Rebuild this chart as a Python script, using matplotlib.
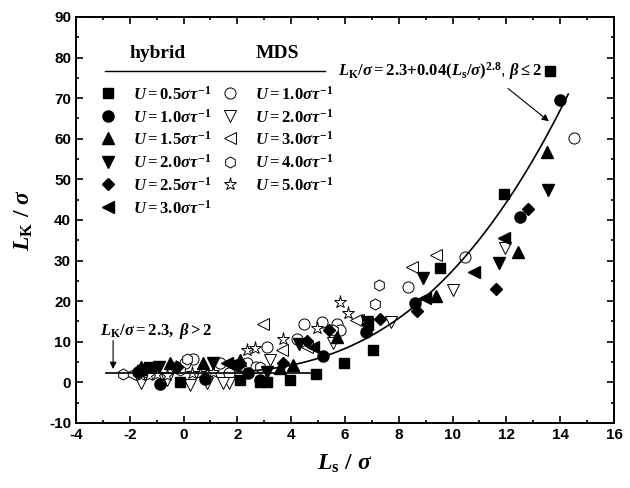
import matplotlib
matplotlib.use("Agg")
import matplotlib.pyplot as plt
import numpy as np

plt.rcParams['font.family'] = ['Liberation Sans', 'DejaVu Sans']
plt.rcParams['mathtext.fontset'] = 'custom'
plt.rcParams['mathtext.it'] = 'Liberation Serif:italic:bold'
plt.rcParams['mathtext.rm'] = 'Liberation Serif:bold'
plt.rcParams['mathtext.bf'] = 'Liberation Serif:bold'
plt.rcParams['axes.unicode_minus'] = False

# hybrid data (filled markers)
h05_x = [13.62, 11.91, 9.53, 7.04, 5.96, 4.92, 3.96, 3.1, 2.84, 2.1, -0.13, -1.3, -1.55]
h05_y = [76.6, 46.3, 28.1, 8.1, 4.9, 2.0, 0.5, 0.0, 0.0, 0.5, 0.0, 3.7, 3.0]
h10_x = [14.0, 12.5, 8.6, 6.78, 5.18, 2.84, 2.4, 2.0, -0.88, 0.8, -1.7]
h10_y = [69.5, 40.8, 19.5, 12.3, 6.4, 0.7, 2.2, 4.2, -0.3, 0.8, 2.5]
h15_x = [13.5, 12.43, 9.38, 5.7, 4.07, 3.6, 0.72, -0.5, -1.6, 2.1]
h15_y = [56.7, 32.0, 21.4, 11.1, 4.4, 3.5, 4.9, 4.7, 3.7, 5.4]
h20_x = [13.55, 11.72, 8.9, 6.8, 4.3, 3.1, 1.1, -0.9]
h20_y = [47.3, 29.3, 25.6, 14.8, 9.5, 2.5, 4.9, 3.7]
h25_x = [12.8, 11.6, 8.68, 7.3, 5.4, 4.6, 3.7, 2.1, -0.25, -1.5]
h25_y = [42.6, 22.9, 17.5, 15.5, 12.8, 10.3, 4.7, 4.9, 3.7, 3.0]
h30_x = [11.9, 10.8, 8.97, 6.8, 4.8, 1.6, -1.25]
h30_y = [35.5, 27.3, 20.7, 14.5, 8.6, 4.7, 3.7]

# MDS data (open markers)
m10_x = [14.5, 10.46, 8.34, 4.48, 5.15, 5.7, 4.2, 3.1, 2.36, 2.7, 1.35, 1.7, 0.35, 0.05, -0.3, 5.8]
m10_y = [60.1, 30.8, 23.4, 14.5, 14.8, 14.5, 10.8, 8.6, 4.7, 3.7, 4.9, 2.2, 5.7, 4.9, 3.7, 12.8]
m20_x = [11.95, 10.0, 7.7, 5.55, 3.2, 1.7, 1.45, 0.87, 0.24, -0.6, -1.6, 0.72]
m20_y = [33.2, 22.7, 14.8, 9.6, 5.4, -0.2, -0.2, -0.2, -0.7, 0.5, -0.2, 1.2]
m30_x = [9.4, 8.5, 6.5, 2.95, 3.67, 6.4, 4.6, -2.0]
m30_y = [31.5, 28.3, 15.3, 14.5, 7.9, 15.3, 8.6, 2.0]
m40_x = [7.26, 7.1, 5.55, 0.12, -2.25, -0.13, 0.87, 2.84]
m40_y = [23.9, 19.2, 12.8, 5.7, 2.0, 3.0, 1.7, 3.7]
m50_x = [5.8, 6.1, 4.96, 3.7, 2.36, 2.65, 1.1, 0.6, -0.3, -0.6, -1.0, -1.3, -1.6, 0.3]
m50_y = [19.7, 17.0, 13.3, 10.6, 7.9, 8.4, 2.5, 2.2, 3.7, 1.7, 2.0, 1.7, 1.7, 2.2]

hybrid = [(h05_x, h05_y, 's', '0.5'), (h10_x, h10_y, 'o', '1.0'),
          (h15_x, h15_y, '^', '1.5'), (h20_x, h20_y, 'v', '2.0'),
          (h25_x, h25_y, 'D', '2.5'), (h30_x, h30_y, '<', '3.0')]
mds = [(m10_x, m10_y, 'o', '1.0'), (m20_x, m20_y, 'v', '2.0'),
       (m30_x, m30_y, '<', '3.0'), (m40_x, m40_y, 'h', '4.0'),
       (m50_x, m50_y, '*', '5.0')]

def msize(m):
    return {'D': 6.5, '*': 9.5, 's': 7}.get(m, 8)

fig = plt.figure(figsize=(6.3, 4.88), dpi=100)
ax = fig.add_axes([0.1206, 0.1332, 0.854, 0.832])

for x, y, m, lab in mds:
    ax.plot(x, y, linestyle='none', marker=m, ms=msize(m), mfc='white', mec='black', mew=0.7)
for x, y, m, lab in hybrid:
    ax.plot(x, y, linestyle='none', marker=m, ms=msize(m), mfc='black', mec='black')

# fitted curve and flat line
xf = np.linspace(-2.9, 5.0, 10)
ax.plot(xf, np.full_like(xf, 2.3), color='black', lw=1.2)
xc = np.linspace(2.0, 14.3, 200)
ax.plot(xc, 2.3 + 0.04 * xc ** 2.8, color='black', lw=1.2)

# legend drawn by hand
ax.text(-0.95, 81, 'hybrid', ha='center', va='center', fontsize=14,
        fontfamily='Liberation Serif', fontweight='bold')
ax.text(3.47, 81, 'MDS', ha='center', va='center', fontsize=14,
        fontfamily='Liberation Serif', fontweight='bold')
ax.plot([-2.92, 5.26], [76.6, 76.6], color='black', lw=1.0)
rows = [71.2, 65.5, 60.1, 54.4, 48.8, 43.1]
for i, (x, y, m, lab) in enumerate(hybrid):
    ax.plot(-2.81, rows[i], marker=m, ms=msize(m), mfc='black', mec='black')
    ax.text(-1.88, rows[i], r'$U = %s\sigma\tau^{-1}$' % lab, va='center', fontsize=12)
for i, (x, y, m, lab) in enumerate(mds):
    ax.plot(1.72, rows[i], marker=m, ms=msize(m), mfc='white', mec='black', mew=0.7)
    ax.text(2.65, rows[i], r'$U = %s\sigma\tau^{-1}$' % lab, va='center', fontsize=12)

# annotations
ax.text(9.55, 76.6, r'$L_{\mathrm{K}}/\sigma = 2.3$+$0.04(L_{\mathrm{s}}/\sigma)^{2.8}$, $\beta \leq 2$',
        ha='center', va='center', fontsize=12)
ax.annotate('', xy=(13.58, 64.3), xytext=(12.06, 72.4),
            arrowprops=dict(arrowstyle='-|>', color='black', lw=0.8, shrinkA=0, shrinkB=0))
ax.text(-3.1, 12.6, r'$L_{\mathrm{K}}/\sigma = 2.3,\ \beta > 2$', ha='left', va='center', fontsize=12)
ax.annotate('', xy=(-2.62, 3.3), xytext=(-2.62, 10.3),
            arrowprops=dict(arrowstyle='-|>', color='black', lw=0.8, shrinkA=0, shrinkB=0))

ax.set_xlim(-4, 16)
ax.set_ylim(-10, 90)
ax.set_xticks(np.arange(-4, 17, 2))
ax.set_yticks(np.arange(-10, 91, 10))
ax.set_xticks(np.arange(-4, 17, 1), minor=True)
ax.set_yticks(np.arange(-10, 91, 5), minor=True)
ax.tick_params(which='both', direction='in', top=True, right=True, width=1.2)
ax.tick_params(which='major', length=5, labelsize=11)
ax.tick_params(which='minor', length=2.5)
for t in ax.get_xticklabels() + ax.get_yticklabels():
    t.set_fontweight('bold')
for s in ax.spines.values():
    s.set_linewidth(1.4)

ax.set_xlabel(r'$L_{\mathrm{s}}\ /\ \sigma$', fontsize=17, labelpad=8)
ax.set_ylabel(r'$L_{\mathrm{K}}\ /\ \sigma$', fontsize=17, labelpad=10)

fig.savefig('out.png', dpi=100)
